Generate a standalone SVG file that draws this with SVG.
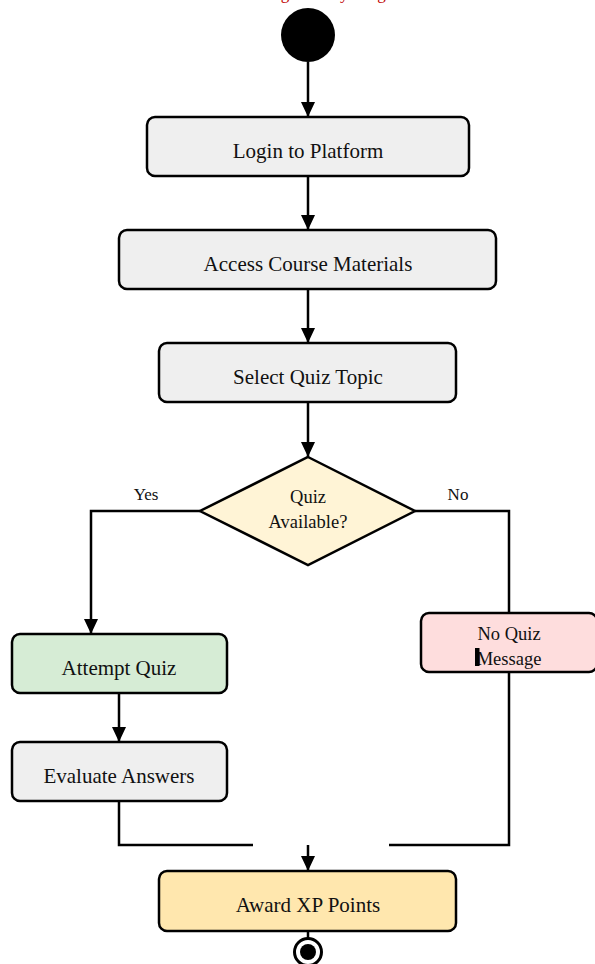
<svg xmlns="http://www.w3.org/2000/svg" width="595" height="964" viewBox="0 0 595 964">
<style>
.box{stroke:#000;stroke-width:2.5}
.t{font-family:"Liberation Serif","Times New Roman",serif;font-size:21px;fill:#111;text-anchor:middle}
.s{font-family:"Liberation Serif","Times New Roman",serif;font-size:18.5px;fill:#111;text-anchor:middle}
.lbl{font-family:"Liberation Serif","Times New Roman",serif;font-size:17px;fill:#111;text-anchor:middle}
.c{fill:none;stroke:#000;stroke-width:2.5}
.ca{fill:none;stroke:#000;stroke-width:2.5;marker-end:url(#ah)}
</style>
<defs>
<marker id="ah" markerUnits="userSpaceOnUse" markerWidth="15" markerHeight="14" refX="15" refY="7" orient="auto" viewBox="0 0 15 14">
<path d="M0,0 L15,7 L0,14 z" fill="#000"/>
</marker>
</defs>
<text x="228" y="-1.5" style="font-family:'Liberation Serif','Times New Roman',serif;font-size:17px;fill:#c00000">Learning Activity Diagram</text>
<g id="connectors">
<path class="ca" d="M308,62 V117"/>
<path class="ca" d="M308,176 V230"/>
<path class="ca" d="M308,289 V343"/>
<path class="ca" d="M308,402 V457"/>
<path class="ca" d="M200,511 H91 V634"/>
<path class="c" d="M415,511 H509 V613"/>
<path class="ca" d="M119,693 V742"/>
<path class="c" d="M119,801 V845 H253"/>
<path class="c" d="M509,672 V845 H389"/>
<path class="ca" d="M308,845 V871"/>
<path class="c" d="M308,931 V938"/>
<text class="lbl" x="146" y="500">Yes</text>
<text class="lbl" x="458" y="500">No</text>
</g>
<g id="start">
<circle cx="308" cy="35" r="27" fill="#000"/>
</g>
<g id="login">
<rect class="box" x="147" y="117" width="322" height="59" rx="8" fill="#efefef"/>
<text class="t" x="308" y="158">Login to Platform</text>
</g>
<g id="access">
<rect class="box" x="119" y="230" width="377" height="59" rx="8" fill="#efefef"/>
<text class="t" x="308" y="271">Access Course Materials</text>
</g>
<g id="select">
<rect class="box" x="159" y="343" width="297" height="59" rx="8" fill="#efefef"/>
<text class="t" x="308" y="384">Select Quiz Topic</text>
</g>
<g id="decision">
<polygon class="box" points="308,457 415,511 308,565 200,511" fill="#fff4d6"/>
<text class="s" x="308" y="503">Quiz</text>
<text class="s" x="308" y="528">Available?</text>
</g>
<g id="attempt">
<rect class="box" x="12" y="634" width="215" height="59" rx="8" fill="#d6ecd5"/>
<text class="t" x="119" y="675">Attempt Quiz</text>
</g>
<g id="evaluate">
<rect class="box" x="12" y="742" width="215" height="59" rx="8" fill="#efefef"/>
<text class="t" x="119" y="783">Evaluate Answers</text>
</g>
<g id="noquiz">
<rect class="box" x="421" y="613" width="176" height="59" rx="8" fill="#fedddd"/>
<text class="s" x="509" y="640">No Quiz</text>
<text class="s" x="509" y="665">Message</text>
<rect x="475" y="648" width="4.5" height="18" fill="#000"/>
</g>
<g id="award">
<rect class="box" x="159" y="871" width="297" height="60" rx="8" fill="#ffe7ae"/>
<text class="t" x="308" y="912">Award XP Points</text>
</g>
<g id="end">
<circle cx="308" cy="952" r="13.5" fill="#fff" stroke="#000" stroke-width="3"/>
<circle cx="308" cy="952" r="8" fill="#000"/>
</g>
</svg>
